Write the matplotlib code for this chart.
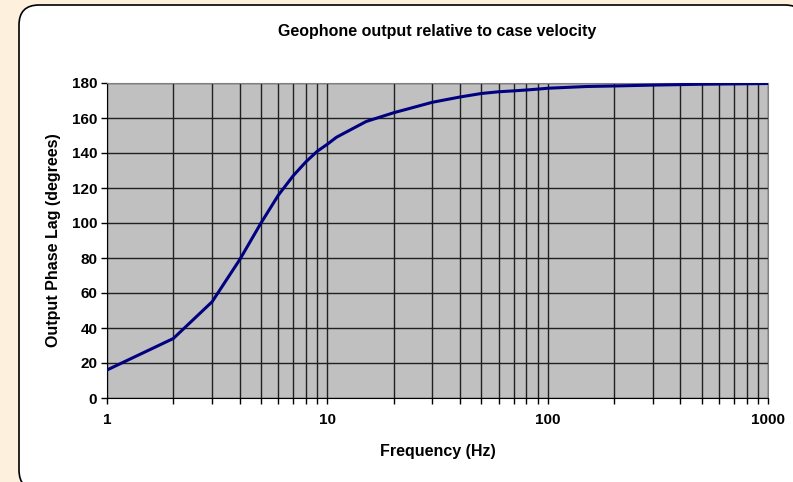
import numpy as np
import matplotlib.pyplot as plt
from matplotlib.patches import FancyBboxPatch
from matplotlib.ticker import LogLocator, FixedLocator, NullFormatter

plt.rcParams['font.family'] = ['Liberation Sans', 'DejaVu Sans']

# values
freq_hz = [1, 2, 3, 4, 5, 6, 7, 8, 9, 10, 11, 15, 20, 30, 40, 50, 60, 70, 80, 90,
           100, 150, 200, 300, 500, 1000]
phase_deg = [16, 34, 55, 79, 100, 116, 127, 135, 141, 145, 149, 158, 163, 169, 172,
             174, 175, 175.5, 176, 176.5, 177, 178, 178.3, 178.8, 179.3, 179.7]
y_ticks = [0, 20, 40, 60, 80, 100, 120, 140, 160, 180]
x_ticks = [1, 10, 100, 1000]
x_tick_labels = ['1', '10', '100', '1000']

fig = plt.figure(figsize=(7.93, 4.82), dpi=100)
fig.patch.set_facecolor('#FDF0DC')

# white rounded panel, in inches; it runs off the right and bottom edges
panel = FancyBboxPatch((0.19, -0.08), 7.86, 4.85,
                       boxstyle='round,pad=0,rounding_size=0.2',
                       transform=fig.dpi_scale_trans, facecolor='white',
                       edgecolor='black', linewidth=1.2, zorder=-10)
fig.patches.append(panel)

ax = fig.add_axes([107 / 793, 84 / 482, (768 - 107) / 793, (398 - 83) / 482])
ax.set_zorder(5)
ax.set_facecolor('#C0C0C0')
ax.set_xscale('log')
ax.set_xlim(1, 1000)
ax.set_ylim(0, 180)

ax.plot(freq_hz, phase_deg, color='#000080', linewidth=2.2, zorder=3)

ax.xaxis.set_major_locator(FixedLocator(x_ticks))
ax.set_xticklabels(x_tick_labels)
ax.xaxis.set_minor_locator(LogLocator(base=10, subs=np.arange(2, 10)))
ax.xaxis.set_minor_formatter(NullFormatter())
ax.set_yticks(y_ticks)

ax.grid(True, which='both', axis='x', color='#202020', linewidth=1.0)
ax.grid(True, which='major', axis='y', color='#202020', linewidth=1.0)
ax.set_axisbelow(True)

for side in ['top', 'right']:
    ax.spines[side].set_color('#808080')
for side in ['left', 'bottom']:
    ax.spines[side].set_color('black')

ax.tick_params(axis='both', which='both', direction='out', length=4, width=1,
               labelsize=11)
ax.tick_params(axis='x', which='major', pad=7)
ax.tick_params(axis='y', pad=3)
for lbl in ax.get_xticklabels() + ax.get_yticklabels():
    lbl.set_fontweight('bold')

ax.set_title('Geophone output relative to case velocity', fontsize=11.5,
             fontweight='bold', pad=34)
ax.set_xlabel('Frequency (Hz)', fontsize=11.5, fontweight='bold', labelpad=12)
ax.set_ylabel('Output Phase Lag (degrees)', fontsize=11.5, fontweight='bold',
              labelpad=8)

fig.savefig('out.png', dpi=100, facecolor=fig.get_facecolor())
